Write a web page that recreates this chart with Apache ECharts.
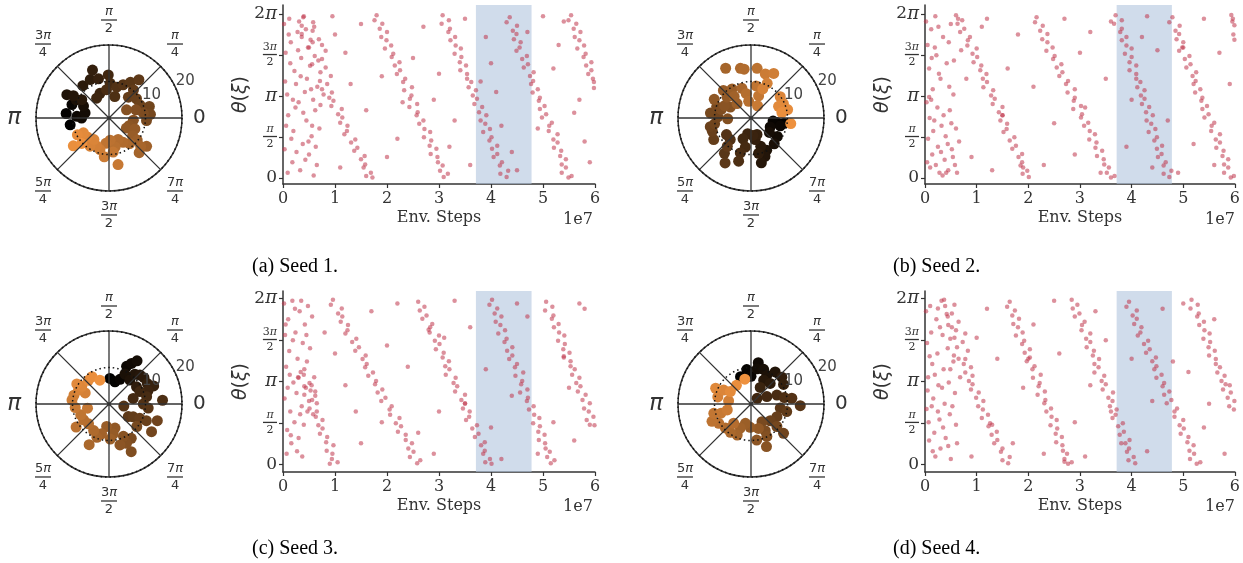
<!DOCTYPE html>
<html>
<head>
<meta charset="utf-8">
<script src="https://cdn.jsdelivr.net/npm/echarts@6/dist/echarts.min.js"></script>
<style>
html,body{margin:0;padding:0;background:#fff}
#chart{width:1243px;height:563px}
</style>
</head>
<body>
<div id="chart"></div>
<script>
const PI = Math.PI

// --- tick values / labels
const angleTicks = [0, 45, 90, 135, 180, 225, 270, 315]
const thetaTicks = [0, PI / 2, PI, 3 * PI / 2, 2 * PI]
const stepTicks = [0, 1, 2, 3, 4, 5, 6]
const radiusTicks = [10, 20]
const bandRange = [3.71, 4.78]
const captions = ["(a) Seed 1.", "(b) Seed 2.", "(c) Seed 3.", "(d) Seed 4."]

// --- polar panels: [radius, angle in degrees], in time order
const seed1Polar = [[10.8,190],[11.8,174],[10.8,160],[8.8,177],[7.5,180],[6.7,168],[7.7,155],[10.3,151],[13.2,151],[11.5,148],[9.0,146],[11.4,129],[11.7,116],[13.9,109],[11.1,105],[7.2,110],[6.4,122],[11.8,91],[9.5,88],[7.8,95],[6.1,75],[8.7,76],[9.9,67],[11.4,59],[13.3,52],[10.2,49],[7.8,47],[9.2,35],[9.2,23],[11.5,16],[11.4,5],[10.3,356],[9.5,8],[7.7,17],[5.3,25],[6.7,355],[5.9,339],[5.5,330],[7.7,337],[8.1,323],[9.8,322],[12.9,323],[12.6,311],[11.7,318],[9.0,309],[7.7,300],[6.4,293],[8.1,282],[6.1,273],[7.0,263],[9.4,277],[13.0,281],[10.7,263],[9.0,254],[8.4,246],[9.3,236],[7.2,235],[7.9,221],[8.1,210],[9.8,208],[12.4,218],[10.2,223]]
const seed2Polar = [[9.2,351],[7.2,350],[6.1,352],[8.3,345],[5.8,335],[8.8,325],[6.4,322],[9.5,312],[9.8,296],[11.2,290],[12.6,283],[8.2,289],[9.9,282],[6.0,281],[4.8,290],[4.8,276],[4.4,258],[6.1,249],[8.1,259],[10.0,253],[12.3,254],[8.2,226],[8.1,214],[12.1,233],[14.2,240],[10.1,230],[11.8,210],[11.2,199],[11.4,192],[10.1,189],[9.1,178],[11.2,173],[9.9,162],[8.5,164],[6.4,182],[6.4,152],[8.0,155],[11.3,153],[8.7,139],[10.7,135],[9.5,123],[5.5,134],[7.5,128],[15.3,117],[8.5,107],[13.9,102],[13.5,98],[6.8,101],[4.6,98],[13.7,83],[8.9,81],[6.4,71],[3.8,62],[12.7,72],[13.7,63],[10.5,65],[8.6,68],[9.9,36],[9.7,24],[8.2,23],[10.3,13],[8.6,10],[11.0,352]]
const seed3Polar = [[7.0,88],[6.3,75],[7.4,66],[11.4,65],[12.7,61],[14.1,57],[9.3,62],[8.7,49],[10.8,49],[11.6,43],[12.0,37],[8.9,32],[11.9,28],[13.2,22],[11.3,19],[9.1,22],[6.8,13],[10.5,11],[14.7,4],[9.4,0],[4.1,352],[10.8,354],[6.3,327],[7.5,332],[9.3,335],[11.2,336],[14.0,341],[13.9,327],[9.8,321],[11.2,303],[14.4,295],[11.8,294],[9.7,294],[11.6,285],[6.8,284],[8.3,278],[6.2,264],[9.6,272],[8.4,256],[9.7,250],[12.4,244],[8.4,240],[7.8,224],[8.2,212],[11.0,215],[8.3,201],[6.0,191],[9.3,186],[10.2,174],[9.9,166],[7.2,155],[9.2,155],[8.9,147],[10.4,148],[8.6,131],[8.8,122],[7.0,111]]
const seed4Polar = [[8.0,111],[9.5,97],[7.6,90],[11.5,80],[9.8,80],[10.1,70],[9.0,61],[11.0,53],[7.4,62],[7.7,47],[11.2,41],[10.4,31],[5.2,61],[2.3,43],[4.8,25],[7.5,19],[9.3,11],[11.3,8],[13.5,358],[8.1,352],[10.0,348],[7.9,334],[7.0,319],[12.0,318],[9.4,319],[5.7,302],[8.3,298],[9.9,296],[12.4,290],[10.0,279],[7.0,287],[6.4,268],[5.5,254],[7.2,246],[9.3,246],[9.6,234],[9.6,223],[7.1,228],[10.3,211],[11.7,204],[10.5,194],[8.6,197],[6.7,194],[6.2,172],[9.3,168],[8.4,153],[10.6,156],[6.6,149],[6.5,128],[7.0,104]]

// --- theta(xi) traces: [env steps / 1e7, theta]
const seed1Early = [[0.02,5.9],[0.05,4.8],[0.08,3.2],[0.03,1.1],[0.12,6.1],[0.15,5.2],[0.10,2.4],[0.18,0.6],[0.22,4.1],[0.25,3.6],[0.20,1.8],[0.28,5.6],[0.30,2.9],[0.33,0.3],[0.35,4.6],[0.38,1.3],[0.40,6.2],[0.42,3.3],[0.45,2.2],[0.48,5.0],[0.50,0.9],[0.52,4.3],[0.55,1.6],[0.58,3.0],[0.60,5.8],[0.62,2.6],[0.65,0.5],[0.68,4.5],[0.70,1.9],[0.06,2.0],[0.14,4.4],[0.26,1.0],[0.36,5.4],[0.46,3.8],[0.56,2.0],[0.66,3.5],[0.09,0.2],[0.19,3.0],[0.31,6.0],[0.43,0.7],[0.53,5.3],[0.63,1.2],[0.72,2.8],[0.16,1.5],[0.24,2.7],[0.34,3.9],[0.44,5.7],[0.54,3.4],[0.04,3.7],[0.11,5.5],[0.29,4.9],[0.39,2.5],[0.49,1.4],[0.59,0.1],[0.75,5.1],[0.78,3.2]]
const seed1Sweeps = [
  [0.39,6.16],[0.58,5.97],[0.36,5.83],[0.57,5.64],[0.36,5.52],[0.69,5.32],[0.57,5.20],[0.50,5.00],[0.82,4.88],[0.61,4.68],[0.75,4.56],[0.56,4.36],[0.82,4.23],[0.72,4.05],[0.92,3.91],[0.71,3.72],[0.85,3.60],[0.75,3.40],[0.94,3.28],[0.89,3.08],[0.97,2.96],[0.93,2.76],[1.13,2.64],[1.06,2.44],[1.14,2.32],[1.10,2.12],[1.24,2.00],[1.23,1.80],[1.18,1.68],[1.39,1.48],[1.31,1.36],[1.43,1.16],[1.37,1.04],[1.57,0.84],[1.50,0.72],[1.58,0.52],[1.55,0.40],[1.69,0.20],[1.60,0.08],[1.72,0.02],
  [1.80,6.24],[1.76,6.05],[1.91,5.91],[1.86,5.72],[2.00,5.60],[1.89,5.40],[1.99,5.28],[2.08,5.08],[1.96,4.96],[2.12,4.76],[2.09,4.64],[2.24,4.44],[2.15,4.31],[2.25,4.13],[2.19,3.99],[2.35,3.80],[2.31,3.68],[2.48,3.48],[2.33,3.36],[2.47,3.16],[2.44,3.04],[2.58,2.84],[2.43,2.72],[2.59,2.52],[2.57,2.40],[2.70,2.20],[2.62,2.08],[2.72,1.88],[2.83,1.76],[2.71,1.56],[2.85,1.44],[2.82,1.24],[2.95,1.12],[2.84,0.92],[2.97,0.80],[2.98,0.60],[3.07,0.48],[3.02,0.28],[3.17,0.16],[3.09,0.04],
  [3.07,6.24],[3.19,6.05],[3.05,5.91],[3.21,5.72],[3.18,5.60],[3.31,5.40],[3.22,5.28],[3.32,5.08],[3.42,4.96],[3.30,4.76],[3.43,4.64],[3.40,4.44],[3.52,4.31],[3.41,4.13],[3.54,3.99],[3.54,3.80],[3.62,3.68],[3.57,3.48],[3.71,3.36],[3.65,3.16],[3.73,3.04],[3.68,2.84],[3.83,2.72],[3.77,2.52],[3.91,2.40],[3.80,2.20],[3.89,2.08],[3.98,1.88],[3.85,1.76],[4.01,1.56],[3.97,1.44],[4.12,1.24],[4.02,1.12],[4.12,0.92],[4.05,0.80],[4.21,0.60],[4.17,0.48],[4.33,0.28],[4.18,0.16],[4.30,0.04],
  [4.36,6.16],[4.30,5.97],[4.50,5.83],[4.42,5.64],[4.49,5.52],[4.44,5.32],[4.57,5.20],[4.55,5.00],[4.49,4.88],[4.69,4.68],[4.60,4.56],[4.71,4.36],[4.63,4.23],[4.82,4.05],[4.75,3.91],[4.81,3.72],[4.77,3.60],[4.90,3.40],[4.80,3.28],[4.94,3.08],[4.92,2.96],[5.03,2.76],[4.94,2.64],[5.06,2.44],[4.98,2.32],[5.17,2.12],[5.12,2.00],[5.11,1.80],[5.28,1.68],[5.20,1.48],[5.28,1.36],[5.21,1.16],[5.35,1.04],[5.33,0.84],[5.44,0.72],[5.36,0.52],[5.44,0.40],[5.36,0.20],[5.55,0.08],[5.49,0.02],
  [5.54,6.24],[5.49,6.05],[5.64,5.91],[5.59,5.72],[5.72,5.60],[5.61,5.40],[5.70,5.28],[5.79,5.08],[5.66,4.96],[5.82,4.76],[5.78,4.64],[5.93,4.44],[5.83,4.31],[5.93,4.13],[5.87,3.99],[5.96,3.80],[5.98,3.68],[5.98,3.45]
]
const seed1Stray = [[1.0,5.5],[1.2,4.8],[1.3,3.6],[1.5,5.9],[1.1,0.4],[2.0,0.8],[2.2,1.5],[2.5,4.6],[2.7,5.8],[2.9,3.0],[1.9,3.9],[3.2,1.2],[3.3,2.2],[3.0,4.0],[3.5,6.1],[3.9,5.4],[4.0,4.4],[4.1,3.3],[4.4,1.0],[4.5,0.3],[4.2,2.0],[3.6,0.5],[4.7,5.6],[5.0,6.2],[5.2,4.2],[5.3,5.1],[5.6,2.5],[5.8,1.4],[5.9,0.6],[5.7,3.0],[4.9,1.9],[3.8,3.7],[2.3,2.9],[1.6,2.6],[0.95,6.2],[5.4,6.0]]

const seed2Early = [[0.02,6.0],[0.05,5.1],[0.08,4.2],[0.03,2.9],[0.06,1.5],[0.10,0.4],[0.12,5.7],[0.15,3.4],[0.18,2.2],[0.14,0.9],[0.20,6.2],[0.22,4.7],[0.25,1.2],[0.28,0.2],[0.30,3.8],[0.32,2.0],[0.35,5.4],[0.38,0.7],[0.40,1.6],[0.42,4.4],[0.45,0.3],[0.48,2.6],[0.50,5.9],[0.52,1.1],[0.55,3.2],[0.58,0.5],[0.60,1.9],[0.08,3.1],[0.12,3.0],[0.16,1.8],[0.24,2.7],[0.34,0.1],[0.44,1.3],[0.54,0.8],[0.04,0.6],[0.19,5.0],[0.27,4.0],[0.36,2.4],[0.46,5.2],[0.56,4.5],[0.62,0.2],[0.66,1.4],[0.09,2.3],[0.21,0.5],[0.31,1.0],[0.41,0.2],[0.51,2.1],[0.26,5.8],[0.13,4.6],[0.47,3.5],[0.64,6.1],[0.70,4.9]]
const seed2Sweeps = [
  [0.60,6.24],[0.72,6.05],[0.63,5.91],[0.76,5.72],[0.68,5.60],[0.87,5.40],[0.83,5.28],[0.82,5.08],[1.00,4.96],[0.92,4.76],[1.01,4.64],[0.94,4.44],[1.09,4.31],[1.07,4.13],[1.19,3.99],[1.12,3.80],[1.20,3.68],[1.13,3.48],[1.32,3.36],[1.28,3.16],[1.35,3.04],[1.31,2.84],[1.50,2.72],[1.43,2.52],[1.50,2.40],[1.46,2.20],[1.59,2.08],[1.58,1.88],[1.52,1.76],[1.73,1.56],[1.64,1.44],[1.76,1.24],[1.69,1.12],[1.88,0.92],[1.81,0.80],[1.88,0.60],[1.85,0.48],[1.98,0.28],[1.89,0.16],[2.01,0.04],
  [2.16,6.16],[2.13,5.97],[2.28,5.83],[2.23,5.64],[2.37,5.52],[2.27,5.32],[2.37,5.20],[2.47,5.00],[2.35,4.88],[2.51,4.68],[2.48,4.56],[2.64,4.36],[2.55,4.23],[2.66,4.05],[2.60,3.91],[2.77,3.72],[2.73,3.60],[2.90,3.40],[2.76,3.28],[2.90,3.08],[2.88,2.96],[3.02,2.76],[2.87,2.64],[3.04,2.44],[3.02,2.32],[3.16,2.12],[3.08,2.00],[3.19,1.80],[3.29,1.68],[3.18,1.48],[3.32,1.36],[3.30,1.16],[3.43,1.04],[3.33,0.84],[3.46,0.72],[3.47,0.52],[3.56,0.40],[3.52,0.20],[3.67,0.08],[3.60,0.02],
  [3.69,6.24],[3.81,6.05],[3.66,5.91],[3.81,5.72],[3.78,5.60],[3.90,5.40],[3.81,5.28],[3.90,5.08],[4.00,4.96],[3.87,4.76],[4.00,4.64],[3.96,4.44],[4.09,4.31],[3.96,4.13],[4.09,3.99],[4.09,3.80],[4.17,3.68],[4.11,3.48],[4.25,3.36],[4.18,3.16],[4.25,3.04],[4.20,2.84],[4.34,2.72],[4.28,2.52],[4.41,2.40],[4.29,2.20],[4.38,2.08],[4.46,1.88],[4.33,1.76],[4.49,1.56],[4.44,1.44],[4.59,1.24],[4.49,1.12],[4.58,0.92],[4.51,0.80],[4.66,0.60],[4.62,0.48],[4.77,0.28],[4.62,0.16],[4.73,0.04],
  [4.79,6.16],[4.73,5.97],[4.93,5.83],[4.85,5.64],[4.92,5.52],[4.87,5.32],[5.00,5.20],[4.98,5.00],[4.92,4.88],[5.12,4.68],[5.03,4.56],[5.14,4.36],[5.06,4.23],[5.25,4.05],[5.18,3.91],[5.24,3.72],[5.20,3.60],[5.33,3.40],[5.23,3.28],[5.37,3.08],[5.35,2.96],[5.46,2.76],[5.37,2.64],[5.49,2.44],[5.41,2.32],[5.60,2.12],[5.55,2.00],[5.54,1.80],[5.71,1.68],[5.63,1.48],[5.71,1.36],[5.64,1.16],[5.78,1.04],[5.76,0.84],[5.87,0.72],[5.79,0.52],[5.87,0.40],[5.79,0.20],[5.98,0.08],[5.92,0.02],
  [5.93,6.25],[5.96,6.10],[5.99,5.85],[5.97,5.50],[5.99,5.30],[5.95,6.00]
]
const seed2Stray = [[0.9,0.8],[1.1,5.8],[1.3,0.3],[1.6,4.2],[1.8,5.5],[2.3,0.5],[2.5,2.1],[2.7,6.1],[3.0,4.8],[3.2,5.6],[3.4,0.2],[3.6,6.0],[3.9,1.2],[4.0,3.0],[4.2,5.4],[4.4,0.4],[4.5,4.9],[4.9,0.2],[5.2,1.3],[5.4,6.1],[5.7,4.8],[5.9,3.6],[1.5,2.4],[2.1,3.5],[3.5,3.8],[4.7,2.2],[5.0,5.0],[2.9,0.9],[1.9,0.4],[5.6,0.5],[3.1,2.7],[4.3,6.2],[1.2,6.1],[0.8,3.8]]

const seed3Early = [[0.02,6.1],[0.04,4.9],[0.06,3.7],[0.03,2.5],[0.08,1.3],[0.10,5.5],[0.12,4.3],[0.14,2.0],[0.16,0.8],[0.18,6.2],[0.20,3.1],[0.22,1.6],[0.24,5.0],[0.26,2.7],[0.28,4.0],[0.30,1.0],[0.32,5.8],[0.34,3.5],[0.36,2.2],[0.38,4.6],[0.40,1.5],[0.42,5.3],[0.44,2.9],[0.46,3.9],[0.48,6.0],[0.50,2.4],[0.52,4.4],[0.55,3.0],[0.58,1.9],[0.07,0.4],[0.13,3.4],[0.19,4.7],[0.27,0.5],[0.33,1.9],[0.41,3.6],[0.47,2.0],[0.53,2.8],[0.60,3.3],[0.05,5.3],[0.23,5.9],[0.37,0.3],[0.09,2.9],[0.29,3.3],[0.45,4.9],[0.15,1.1],[0.62,2.6],[0.35,6.2],[0.56,5.6]]
const seed3Sweeps = [
  [0.40,3.40],[0.30,3.28],[0.51,3.08],[0.41,2.96],[0.62,2.76],[0.41,2.64],[0.56,2.44],[0.65,2.32],[0.51,2.12],[0.65,2.00],[0.63,1.80],[0.76,1.68],[0.68,1.48],[0.76,1.36],[0.71,1.16],[0.85,1.04],[0.83,0.84],[0.97,0.72],[0.84,0.52],[0.95,0.40],[0.94,0.20],[1.05,0.08],[0.90,0.02],
  [0.96,6.24],[0.92,6.05],[1.13,5.91],[1.06,5.72],[1.14,5.60],[1.11,5.40],[1.25,5.28],[1.24,5.08],[1.20,4.96],[1.41,4.76],[1.33,4.64],[1.46,4.44],[1.39,4.31],[1.59,4.13],[1.53,3.99],[1.61,3.80],[1.58,3.68],[1.73,3.48],[1.64,3.36],[1.79,3.16],[1.77,3.04],[1.91,2.84],[1.82,2.72],[1.97,2.52],[1.89,2.40],[2.09,2.20],[2.05,2.08],[2.06,1.88],[2.24,1.76],[2.17,1.56],[2.27,1.44],[2.21,1.24],[2.36,1.12],[2.36,0.92],[2.48,0.80],[2.41,0.60],[2.51,0.48],[2.44,0.28],[2.64,0.16],[2.58,0.04],
  [2.60,6.16],[2.72,5.97],[2.63,5.83],[2.76,5.64],[2.68,5.52],[2.87,5.32],[2.83,5.20],[2.82,5.00],[3.00,4.88],[2.92,4.68],[3.01,4.56],[2.94,4.36],[3.09,4.23],[3.07,4.05],[3.19,3.91],[3.12,3.72],[3.20,3.60],[3.13,3.40],[3.32,3.28],[3.28,3.08],[3.35,2.96],[3.31,2.76],[3.50,2.64],[3.43,2.44],[3.50,2.32],[3.46,2.12],[3.59,2.00],[3.58,1.80],[3.52,1.68],[3.73,1.48],[3.64,1.36],[3.76,1.16],[3.69,1.04],[3.88,0.84],[3.81,0.72],[3.88,0.52],[3.85,0.40],[3.98,0.20],[3.89,0.08],[4.01,0.02],
  [4.02,6.24],[3.97,6.05],[4.12,5.91],[4.07,5.72],[4.20,5.60],[4.09,5.40],[4.18,5.28],[4.27,5.08],[4.14,4.96],[4.30,4.76],[4.26,4.64],[4.41,4.44],[4.31,4.31],[4.41,4.13],[4.35,3.99],[4.50,3.80],[4.46,3.68],[4.62,3.48],[4.47,3.36],[4.60,3.16],[4.58,3.04],[4.70,2.84],[4.56,2.72],[4.71,2.52],[4.69,2.40],[4.82,2.20],[4.73,2.08],[4.83,1.88],[4.93,1.76],[4.81,1.56],[4.94,1.44],[4.91,1.24],[5.03,1.12],[4.92,0.92],[5.04,0.80],[5.05,0.60],[5.13,0.48],[5.08,0.28],[5.22,0.16],[5.15,0.04],
  [5.06,6.16],[5.18,5.97],[5.04,5.83],[5.20,5.64],[5.17,5.52],[5.30,5.32],[5.21,5.20],[5.31,5.00],[5.41,4.88],[5.29,4.68],[5.42,4.56],[5.39,4.36],[5.51,4.23],[5.40,4.05],[5.53,3.91],[5.53,3.72],[5.61,3.60],[5.56,3.40],[5.70,3.28],[5.64,3.08],[5.72,2.96],[5.67,2.76],[5.82,2.64],[5.76,2.44],[5.90,2.32],[5.79,2.12],[5.88,2.00],[5.97,1.80],[5.84,1.68],[5.99,1.48]
]
const seed3Stray = [[0.8,5.0],[1.2,3.0],[1.0,4.2],[1.5,0.8],[1.7,5.8],[2.0,4.5],[2.2,6.1],[2.4,3.7],[2.6,1.2],[2.9,0.4],[3.1,4.8],[3.3,6.2],[3.6,5.2],[3.9,3.6],[4.0,1.4],[4.2,0.2],[4.4,2.6],[4.7,5.6],[4.9,0.4],[5.2,1.6],[5.4,4.1],[5.6,0.9],[5.8,5.9],[5.9,1.5],[1.4,2.0],[3.5,2.3],[4.5,6.1],[2.8,5.1],[1.9,1.6],[5.5,2.9],[3.0,2.0],[5.7,6.1]]

const seed4Early = [[0.02,5.8],[0.04,4.6],[0.06,3.3],[0.03,2.1],[0.08,0.9],[0.10,6.0],[0.12,5.0],[0.14,3.8],[0.16,2.5],[0.18,1.2],[0.20,0.3],[0.22,5.5],[0.24,4.2],[0.26,3.0],[0.28,1.7],[0.30,0.6],[0.32,6.2],[0.34,4.9],[0.36,3.6],[0.38,2.3],[0.40,1.0],[0.42,5.7],[0.44,4.4],[0.46,3.1],[0.48,1.9],[0.50,0.2],[0.52,5.2],[0.55,3.9],[0.58,2.7],[0.60,1.5],[0.62,0.8],[0.65,4.0],[0.07,1.6],[0.15,0.5],[0.25,2.0],[0.35,1.4],[0.45,0.7],[0.09,4.1],[0.19,3.4],[0.29,5.2],[0.39,6.0],[0.49,3.6],[0.57,4.8],[0.05,2.8],[0.13,2.2],[0.33,2.9],[0.53,2.2],[0.68,3.3]]
const seed4Sweeps = [
  [0.37,6.24],[0.57,6.05],[0.25,5.91],[0.52,5.72],[0.44,5.60],[0.65,5.40],[0.45,5.28],[0.60,5.08],[0.78,4.96],[0.49,4.76],[0.73,4.64],[0.62,4.44],[0.83,4.31],[0.56,4.13],[0.78,3.99],[0.75,3.80],[0.89,3.68],[0.78,3.48],[0.92,3.36],[0.85,3.16],[0.92,3.04],[0.89,2.84],[1.04,2.72],[0.99,2.52],[1.13,2.40],[1.03,2.20],[1.12,2.08],[1.22,1.88],[1.10,1.76],[1.26,1.56],[1.23,1.44],[1.39,1.24],[1.29,1.12],[1.40,0.92],[1.34,0.80],[1.50,0.60],[1.47,0.48],[1.64,0.28],[1.50,0.16],[1.61,0.04],
  [1.64,6.16],[1.59,5.97],[1.74,5.83],[1.69,5.64],[1.82,5.52],[1.71,5.32],[1.80,5.20],[1.89,5.00],[1.76,4.88],[1.92,4.68],[1.88,4.56],[2.03,4.36],[1.93,4.23],[2.03,4.05],[1.97,3.91],[2.12,3.72],[2.08,3.60],[2.24,3.40],[2.09,3.28],[2.22,3.08],[2.20,2.96],[2.32,2.76],[2.18,2.64],[2.33,2.44],[2.31,2.32],[2.44,2.12],[2.35,2.00],[2.45,1.80],[2.55,1.68],[2.43,1.48],[2.56,1.36],[2.53,1.16],[2.65,1.04],[2.54,0.84],[2.66,0.72],[2.67,0.52],[2.75,0.40],[2.70,0.20],[2.84,0.08],[2.77,0.02],
  [2.84,6.24],[2.95,6.05],[2.86,5.91],[2.99,5.72],[2.90,5.60],[3.09,5.40],[3.04,5.28],[3.03,5.08],[3.20,4.96],[3.12,4.76],[3.20,4.64],[3.13,4.44],[3.27,4.31],[3.25,4.13],[3.37,3.99],[3.28,3.80],[3.36,3.68],[3.28,3.48],[3.47,3.36],[3.42,3.16],[3.50,3.04],[3.44,2.84],[3.64,2.72],[3.55,2.52],[3.63,2.40],[3.58,2.20],[3.71,2.08],[3.69,1.88],[3.63,1.76],[3.83,1.56],[3.74,1.44],[3.85,1.24],[3.77,1.12],[3.96,0.92],[3.88,0.80],[3.95,0.60],[3.91,0.48],[4.04,0.28],[3.94,0.16],[4.07,0.04],
  [3.95,6.16],[3.90,5.97],[4.10,5.83],[4.02,5.64],[4.10,5.52],[4.05,5.32],[4.19,5.20],[4.17,5.00],[4.12,4.88],[4.32,4.68],[4.24,4.56],[4.35,4.36],[4.28,4.23],[4.47,4.05],[4.40,3.91],[4.48,3.72],[4.44,3.60],[4.58,3.40],[4.48,3.28],[4.63,3.08],[4.60,2.96],[4.73,2.76],[4.63,2.64],[4.77,2.44],[4.68,2.32],[4.88,2.12],[4.83,2.00],[4.83,1.80],[5.00,1.68],[4.93,1.48],[5.01,1.36],[4.95,1.16],[5.10,1.04],[5.08,0.84],[5.20,0.72],[5.12,0.52],[5.21,0.40],[5.13,0.20],[5.33,0.08],[5.26,0.02],
  [5.16,6.24],[5.28,6.05],[5.14,5.91],[5.30,5.72],[5.27,5.60],[5.40,5.40],[5.31,5.28],[5.41,5.08],[5.51,4.96],[5.39,4.76],[5.52,4.64],[5.49,4.44],[5.61,4.31],[5.50,4.13],[5.63,3.99],[5.63,3.80],[5.71,3.68],[5.66,3.48],[5.80,3.36],[5.74,3.16],[5.82,3.04],[5.77,2.84],[5.92,2.72],[5.86,2.52],[5.99,2.40],[5.89,2.20],[5.98,2.08]
]
const seed4Stray = [[1.0,4.8],[1.2,5.9],[1.4,4.0],[0.9,0.3],[1.7,0.8],[1.9,2.9],[2.1,5.3],[2.3,0.4],[2.5,6.2],[2.6,4.2],[2.9,1.6],[3.1,0.3],[3.3,5.8],[3.5,4.7],[3.6,2.0],[3.8,0.8],[4.0,4.0],[4.3,0.5],[4.4,2.4],[4.6,5.9],[5.0,6.1],[5.1,3.5],[5.4,1.4],[5.6,5.5],[5.8,0.4],[5.9,3.0],[1.3,1.5],[2.0,4.0],[3.2,3.0],[4.8,3.9],[5.5,2.3],[2.7,0.1]]

const polarSets = [seed1Polar, seed2Polar, seed3Polar, seed4Polar]
const traceSets = [
  seed1Early.concat(seed1Sweeps, seed1Stray),
  seed2Early.concat(seed2Sweeps, seed2Stray),
  seed3Early.concat(seed3Sweeps, seed3Stray),
  seed4Early.concat(seed4Sweeps, seed4Stray)
]

// --- layout (pixels)
const panels = [
  { center: [109, 118], left: 283, top: 5, height: 179, yMin: -0.23, yMax: 6.63, cap: [252, 267], exp: [578, 220] },
  { center: [751, 118], left: 925, top: 5, height: 179, yMin: -0.23, yMax: 6.63, cap: [893, 267], exp: [1220, 220] },
  { center: [109, 404], left: 283, top: 291, height: 181, yMin: -0.29, yMax: 6.57, cap: [252, 549], exp: [578, 507] },
  { center: [751, 404], left: 925, top: 291, height: 181, yMin: -0.29, yMax: 6.57, cap: [893, 549], exp: [1220, 507] }
]

const ink = "#333"

const copper = (t) => {
  const r = Math.round(238 * t), g = Math.round(145 * t), b = Math.round(62 * t)
  return "rgb(" + r + "," + g + "," + b + ")"
}

const frac = (n, d) => {
  const top = n.length > 1 ? "{num|" + n[0] + "}{numi|π}" : "{numi|π}"
  return top + "\n{bar| }\n{den|" + d + "}"
}
const angleText = { 0: "{big|0}", 45: frac("π", "4"), 90: frac("π", "2"), 135: frac("3π", "4"), 180: "{bigpi|π}", 225: frac("5π", "4"), 270: frac("3π", "2"), 315: frac("7π", "4") }

const angleRich = {
  num: { fontFamily: "DejaVu Sans", fontSize: 13, color: ink, align: "center", lineHeight: 13 },
  numi: { fontFamily: "DejaVu Sans", fontStyle: "italic", fontSize: 13, color: ink, align: "center", lineHeight: 13 },
  bar: { width: 16, height: 1.3, backgroundColor: ink, lineHeight: 4, fontSize: 1, align: "center" },
  den: { fontFamily: "DejaVu Sans", fontSize: 13, color: ink, align: "center", lineHeight: 14 },
  big: { fontFamily: "DejaVu Sans", fontSize: 20, color: ink, padding: [0, 0, 0, 2] },
  bigpi: { fontFamily: "DejaVu Sans", fontStyle: "italic", fontSize: 23, color: ink, padding: [0, 6, 0, 0] }
}

const thetaText = (v) => {
  if (Math.abs(v) < 1e-6) return "{r|0}"
  if (Math.abs(v - PI / 2) < 1e-6) return "{fp|π}\n{fb| }\n{fd|2}"
  if (Math.abs(v - PI) < 1e-6) return "{p|π}"
  if (Math.abs(v - 3 * PI / 2) < 1e-6) return "{fn|3}{fp|π}\n{fb| }\n{fd|2}"
  if (Math.abs(v - 2 * PI) < 1e-6) return "{r|2}{p|π}"
  return ""
}
const thetaRich = {
  r: { fontFamily: "DejaVu Serif", fontSize: 17, color: ink },
  p: { fontFamily: "DejaVu Serif", fontStyle: "italic", fontSize: 18, color: ink },
  fn: { fontFamily: "DejaVu Serif", fontSize: 11, color: ink, align: "center", lineHeight: 11 },
  fp: { fontFamily: "DejaVu Serif", fontStyle: "italic", fontSize: 11, color: ink, align: "center", lineHeight: 11 },
  fb: { width: 14, height: 1.3, backgroundColor: ink, lineHeight: 3, fontSize: 1, align: "center" },
  fd: { fontFamily: "DejaVu Serif", fontSize: 11, color: ink, align: "center", lineHeight: 12 }
}

const polar = [], angleAxis = [], radiusAxis = []
const grid = [], xAxis = [], yAxis = [], series = [], graphic = []

panels.forEach((p, i) => {
  // main polar + an overlay polar that carries the radial labels and the r = 10 ring
  polar.push({ center: p.center, radius: 73 })
  polar.push({ center: p.center, radius: 73 })

  angleAxis.push({
    polarIndex: 2 * i, type: "value", min: 0, max: 360, interval: 45,
    startAngle: 0, clockwise: false, z: 3,
    axisLine: { lineStyle: { color: ink, width: 1.5 } },
    axisTick: { show: false },
    splitLine: { show: true, lineStyle: { color: ink, width: 1.3 } },
    axisLabel: { margin: 9, formatter: (v) => angleText[v] || "", rich: angleRich }
  })
  angleAxis.push({
    polarIndex: 2 * i + 1, type: "value", min: 0, max: 360,
    startAngle: 22.5, clockwise: false, show: false
  })
  radiusAxis.push({ polarIndex: 2 * i, min: 0, max: 20, show: false })
  radiusAxis.push({
    polarIndex: 2 * i + 1, min: 0, max: 20, interval: 10, z: 4,
    axisLine: { show: false }, axisTick: { show: false },
    splitLine: { show: true, lineStyle: { type: [1.5, 3], color: "#111", width: 1.5 } },
    axisLabel: {
      formatter: (v) => (radiusTicks.includes(v) ? String(v) : ""),
      fontFamily: "DejaVu Sans", fontSize: 15, color: "#444",
      margin: 2, align: "left", verticalAlign: "bottom"
    }
  })

  const pts = polarSets[i]
  series.push({
    type: "scatter", coordinateSystem: "polar", polarIndex: 2 * i,
    data: pts, symbolSize: 11, z: 2,
    itemStyle: { opacity: 1, color: (q) => copper(q.dataIndex / (pts.length - 1)) }
  })

  grid.push({ left: p.left, top: p.top, width: 312, height: p.height })
  xAxis.push({
    gridIndex: i, type: "value", min: 0, max: 6, interval: 1,
    name: "Env. Steps", nameLocation: "middle", nameGap: 26,
    nameTextStyle: { fontFamily: "DejaVu Serif", fontSize: 16, color: ink },
    axisLine: { onZero: false, lineStyle: { color: ink, width: 1.5 } },
    axisTick: { length: 4, lineStyle: { color: ink, width: 1.2 } },
    splitLine: { show: false },
    axisLabel: { fontFamily: "DejaVu Serif", fontSize: 16, color: ink, margin: 7,
      formatter: (v) => (stepTicks.includes(v) ? String(v) : "") }
  })
  yAxis.push({
    gridIndex: i, type: "value", min: p.yMin, max: p.yMax,
    name: "{i|θ}{n|(}{i|ξ}{n|)}", nameLocation: "middle", nameGap: 31, nameRotate: 90,
    nameTextStyle: { rich: {
      i: { fontFamily: "DejaVu Sans", fontStyle: "italic", fontSize: 19, color: ink },
      n: { fontFamily: "DejaVu Sans", fontSize: 19, color: ink }
    } },
    axisLine: { show: true, onZero: false, lineStyle: { color: ink, width: 1.5 } },
    axisTick: { show: true, customValues: thetaTicks, length: 4, lineStyle: { color: ink, width: 1.2 } },
    splitLine: { show: false },
    axisLabel: { customValues: thetaTicks, margin: 6, formatter: thetaText, rich: thetaRich }
  })
  // shaded window sits underneath the trace
  series.push({
    type: "scatter", xAxisIndex: i, yAxisIndex: i, data: [], z: 1,
    markArea: {
      silent: true,
      itemStyle: { color: "rgba(176,196,222,0.6)" },
      data: [[{ xAxis: bandRange[0] }, { xAxis: bandRange[1] }]]
    }
  })
  series.push({
    type: "scatter", xAxisIndex: i, yAxisIndex: i, z: 3,
    data: traceSets[i], symbolSize: 4.5,
    itemStyle: { color: "#c0344a", opacity: 0.55 }
  })

  graphic.push({ type: "text", x: p.exp[0], y: p.exp[1],
    style: { text: "1e7", font: '16px "DejaVu Serif"', fill: ink, textAlign: "center", textVerticalAlign: "middle" } })
  graphic.push({ type: "text", x: p.cap[0], y: p.cap[1],
    style: { text: captions[i], font: '20px "Liberation Serif"', fill: "#000", textAlign: "left", textVerticalAlign: "middle" } })
})

const chart = echarts.init(document.getElementById("chart"), null, { renderer: "canvas" })
chart.setOption({
  animation: false,
  backgroundColor: "#fff",
  polar, angleAxis, radiusAxis,
  grid, xAxis, yAxis,
  series, graphic
})
</script>
</body>
</html>
